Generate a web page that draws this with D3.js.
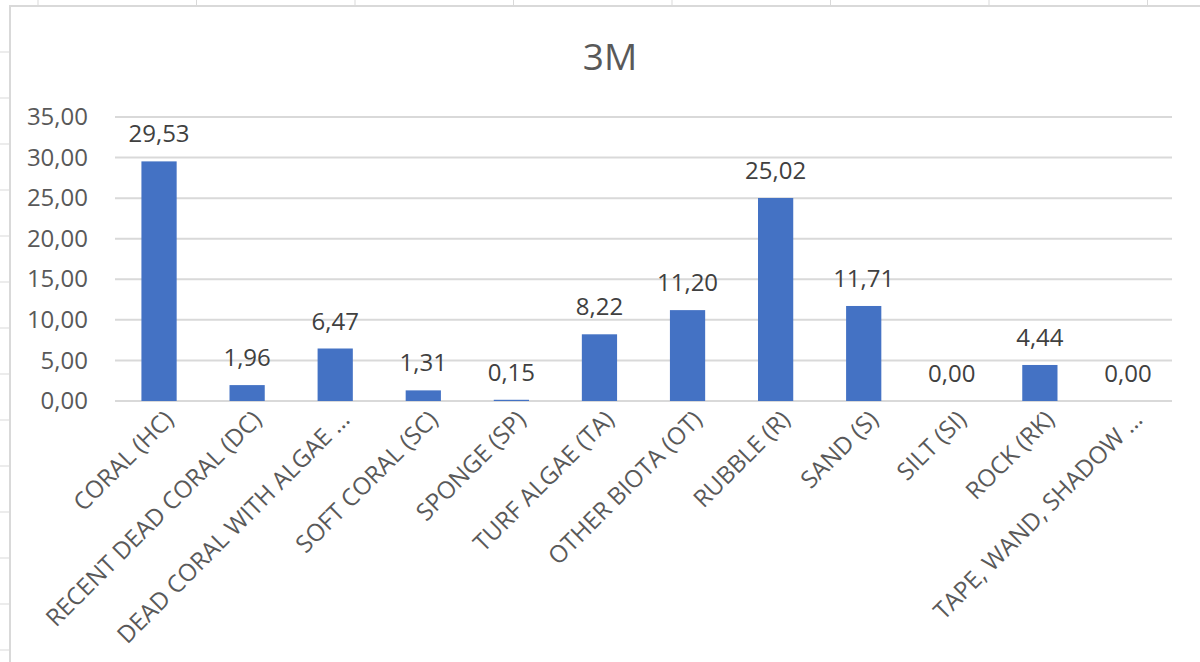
<!DOCTYPE html>
<html>
<head>
<meta charset="utf-8">
<script src="https://cdn.jsdelivr.net/npm/d3@7"></script>
<style>
  html, body { margin: 0; padding: 0; background: #fff; }
  svg { display: block; font-family: "Open Sans", "Noto Sans", sans-serif; }
</style>
</head>
<body>
<div id="chart"></div>
<script>
const categories = [
  'CORAL (HC)', 'RECENT DEAD CORAL (DC)', 'DEAD CORAL WITH ALGAE …', 'SOFT CORAL (SC)',
  'SPONGE (SP)', 'TURF ALGAE (TA)', 'OTHER BIOTA (OT)', 'RUBBLE (R)',
  'SAND (S)', 'SILT (SI)', 'ROCK (RK)', 'TAPE, WAND, SHADOW …'
];
const values = [29.53, 1.96, 6.47, 1.31, 0.15, 8.22, 11.20, 25.02, 11.71, 0.00, 4.44, 0.00];
const yTicks = [0, 5, 10, 15, 20, 25, 30, 35];
const title = '3M';

const W = 1200, H = 662;
const margin = {top: 117, right: 28, bottom: 261, left: 115};
const width = W - margin.left - margin.right;
const height = H - margin.top - margin.bottom;

const fmt = v => v.toFixed(2).replace('.', ',');

const svg = d3.select('#chart').append('svg')
  .attr('width', W)
  .attr('height', H);

// sheet cell gridlines peeking out round the chart frame
const sheetCols = d3.range(8).map(i => 38 + i * 158.5);
const sheetRows = d3.range(14).map(i => 52 + i * 46);
svg.selectAll('.scol').data(sheetCols).enter().append('line')
  .attr('x1', d => d).attr('x2', d => d).attr('y1', 0).attr('y2', 5)
  .attr('stroke', '#d9d9d9').attr('stroke-width', 1);
svg.selectAll('.srow').data(sheetRows).enter().append('line')
  .attr('x1', 0).attr('x2', 9).attr('y1', d => d).attr('y2', d => d)
  .attr('stroke', '#d9d9d9').attr('stroke-width', 1);

// chart frame (top and left edges visible)
svg.append('path')
  .attr('d', `M10,${H} L10,6 L${W},6`)
  .attr('fill', 'none')
  .attr('stroke', '#d9d9d9')
  .attr('stroke-width', 2);

svg.append('text')
  .attr('x', 610)
  .attr('y', 70)
  .attr('text-anchor', 'middle')
  .style('font-size', '37px')
  .style('fill', '#595959')
  .text(title);

const g = svg.append('g')
  .attr('transform', `translate(${margin.left},${margin.top})`);

const x = d3.scaleBand()
  .domain(categories)
  .range([0, width])
  .paddingInner(0.6)
  .paddingOuter(0.3);

const y = d3.scaleLinear()
  .domain([0, 35])
  .range([height, 0]);

// gridlines
g.selectAll('.grid').data(yTicks).enter().append('line')
  .attr('x1', 0).attr('x2', width)
  .attr('y1', d => y(d)).attr('y2', d => y(d))
  .attr('stroke', '#d9d9d9')
  .attr('stroke-width', 2);

// y axis labels
const yAxis = g.append('g')
  .call(d3.axisLeft(y).tickValues(yTicks).tickFormat(fmt).tickSize(0).tickPadding(27))
  .attr('font-family', null)
  .attr('font-size', null);
yAxis.select('.domain').remove();
yAxis.selectAll('text')
  .style('font-size', '24px')
  .style('fill', '#595959');

// bars
g.selectAll('.bar').data(values).enter().append('rect')
  .attr('x', (d, i) => x(categories[i]))
  .attr('width', x.bandwidth())
  .attr('y', d => y(d))
  .attr('height', d => height - y(d))
  .attr('fill', '#4472c4');

// data labels
g.selectAll('.lbl').data(values).enter().append('text')
  .attr('x', (d, i) => x(categories[i]) + x.bandwidth() / 2)
  .attr('y', d => y(d) - 19)
  .attr('text-anchor', 'middle')
  .style('font-size', '24px')
  .style('fill', '#404040')
  .text(fmt);

// x axis labels, rotated
const xAxis = g.append('g')
  .attr('transform', `translate(0,${height})`)
  .call(d3.axisBottom(x).tickSize(0).tickPadding(0))
  .attr('font-family', null)
  .attr('font-size', null);
xAxis.select('.domain').remove();
xAxis.selectAll('text')
  .style('font-size', '24px')
  .style('fill', '#595959')
  .attr('text-anchor', 'end')
  .attr('dy', '0.35em')
  .attr('y', 0)
  .attr('transform', 'translate(10,14) rotate(-45)');
</script>
</body>
</html>
